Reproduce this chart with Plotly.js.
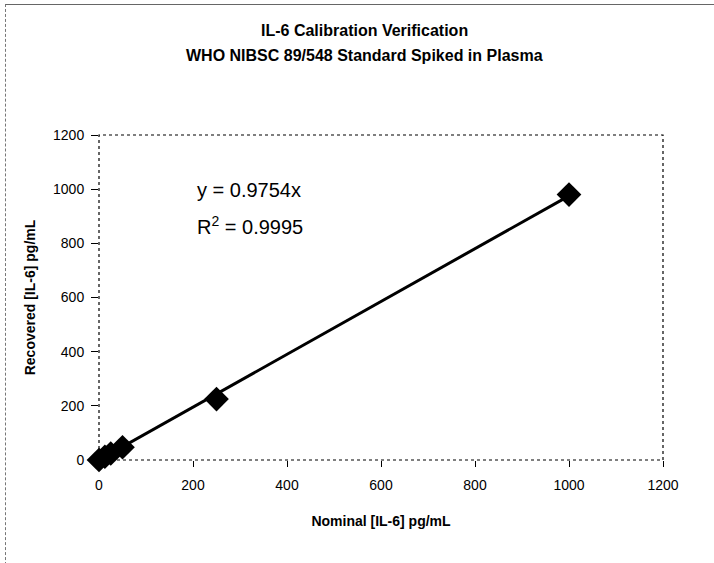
<!DOCTYPE html>
<html><head><meta charset="utf-8">
<script src="https://cdn.plot.ly/plotly-3.0.1.min.js"></script>
<style>
html,body{margin:0;padding:0;background:#fff;}
#wrap{position:absolute;left:0;top:0;width:714px;height:563px;}
#frame{position:absolute;left:5px;top:4px;width:720px;height:570px;border-top:1.5px solid #666;border-left:1px dashed #777;pointer-events:none;}
#chart{position:absolute;left:0;top:0;width:714px;height:563px;}
</style></head>
<body>
<div id="wrap"><div id="chart"></div><div id="frame"></div></div>
<script>
const nominal = [0, 12.5, 25, 50, 250, 1000];
const recovered = [0, 12, 24, 47, 225, 980];
const slope = 0.9754;
const r2 = 0.9995;
const fitX = [0, 1000];
const fitY = fitX.map(v => v * slope);
const xTicks = [0, 200, 400, 600, 800, 1000, 1200];
const yTicks = [0, 200, 400, 600, 800, 1000, 1200];
const titleLines = ['IL-6 Calibration Verification', 'WHO NIBSC 89/548 Standard Spiked in Plasma'];

const font = 'Arial, "Liberation Sans", sans-serif';
const data = [
  {x: fitX, y: fitY, mode: 'lines', line: {color: '#000', width: 3}, hoverinfo: 'skip', showlegend: false, cliponaxis: false},
  {x: nominal, y: recovered, mode: 'markers', marker: {symbol: 'diamond', size: 19, color: '#000'}, showlegend: false, cliponaxis: false}
];
const layout = {
  width: 714, height: 563,
  margin: {l: 99, r: 51, t: 135, b: 103},
  paper_bgcolor: '#fff', plot_bgcolor: '#fff',
  font: {family: font, color: '#000', size: 14},
  xaxis: {range: [0, 1200], tickvals: xTicks, ticktext: xTicks.map(String), showgrid: false, zeroline: false, showline: false, ticks: 'outside', ticklen: 6, tickcolor: '#000', ticklabelstandoff: 6, tickfont: {size: 14}, title: {text: '<b>Nominal [IL-6] pg/mL</b>', font: {size: 14}, standoff: 24}},
  yaxis: {range: [0, 1200], tickvals: yTicks, ticktext: yTicks.map(String), showgrid: false, zeroline: false, showline: false, ticks: 'outside', ticklen: 7, tickcolor: '#000', ticklabelstandoff: 4, tickfont: {size: 14}, title: {text: '<b>Recovered [IL-6] pg/mL</b>', font: {size: 14}, standoff: 14}},
  shapes: [
    {type: 'rect', xref: 'paper', yref: 'paper', x0: 0, x1: 1, y0: 0, y1: 1, line: {color: '#000', width: 1.2, dash: 'dot'}, layer: 'below'}
  ],
  annotations: [
    {xref: 'paper', yref: 'paper', x: 0.47, y: 1.323, xanchor: 'center', yanchor: 'middle', text: '<b>' + titleLines[0] + '</b>', showarrow: false, font: {size: 16, family: font}},
    {xref: 'paper', yref: 'paper', x: 0.47, y: 1.246, xanchor: 'center', yanchor: 'middle', text: '<b>' + titleLines[1] + '</b>', showarrow: false, font: {size: 16, family: font}},
    {xref: 'paper', yref: 'paper', x: 0.17, y: 0.83, xanchor: 'left', yanchor: 'middle', text: 'y = ' + slope.toFixed(4) + 'x', showarrow: false, font: {size: 20, family: font}},
    {xref: 'paper', yref: 'paper', x: 0.17, y: 0.722, xanchor: 'left', yanchor: 'middle', text: 'R<sup>2</sup> = ' + r2.toFixed(4), showarrow: false, font: {size: 20, family: font}}
  ]
};
Plotly.newPlot('chart', data, layout, {displayModeBar: false, staticPlot: true});
</script>
</body></html>
